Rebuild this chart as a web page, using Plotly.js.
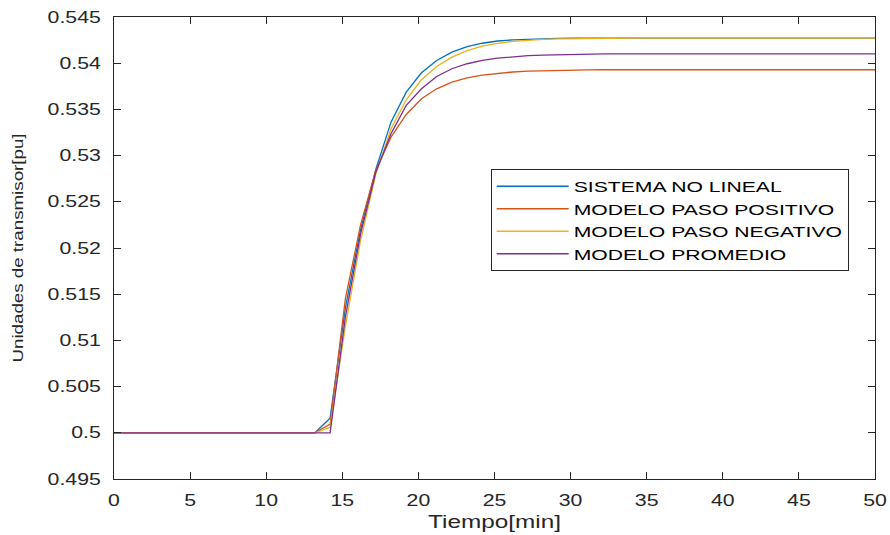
<!DOCTYPE html>
<html>
<head>
<meta charset="utf-8">
<script src="https://cdn.plot.ly/plotly-3.0.1.min.js"></script>
<style>
html,body{margin:0;padding:0;background:#fff;}
#chart{width:890px;height:535px;}
#chart g.xtick{transform-box:fill-box;transform-origin:center;transform:scaleX(1.33);}
#chart g.ytick{transform-box:fill-box;transform-origin:right center;transform:scaleX(1.33);}
text.legendtext{transform-box:fill-box;transform-origin:left center;transform:scaleX(1.41);}
#chart g.g-xtitle{transform-box:fill-box;transform-origin:center;transform:scaleX(1.28);}
#chart g.g-ytitle{transform-box:fill-box;transform-origin:center;transform:scaleY(1.21);}
</style>
</head>
<body>
<div id="chart"></div>
<script>
// Time samples [min]
const tiempo = [0, 13.2, 14.2, 15.2, 16.2, 17.2, 18.2, 19.2, 20.2, 21.2, 22.2, 23.2, 24.2, 25.2, 26.2, 27.2, 28.2, 29.2, 30.2, 31.2, 32.2, 33.2, 34.2, 35.2, 50];

const sistemaNoLineal = [0.5, 0.5, 0.50158, 0.5135, 0.5220, 0.5285, 0.53362, 0.53686, 0.53896, 0.54029, 0.54119, 0.54180, 0.54216, 0.54240, 0.54252, 0.54260, 0.54265, 0.54268, 0.54270, 0.54271, 0.54271, 0.54271, 0.54271, 0.54271, 0.54271];
const modeloPasoPositivo = [0.5, 0.5, 0.50094, 0.5145, 0.5225, 0.5284, 0.53200, 0.53445, 0.53615, 0.53723, 0.53795, 0.53842, 0.53870, 0.53890, 0.53905, 0.53915, 0.53920, 0.53924, 0.53927, 0.53928, 0.53929, 0.53929, 0.53929, 0.53929, 0.53929];
const modeloPasoNegativo = [0.5, 0.5, 0.50060, 0.5115, 0.5208, 0.5280, 0.53291, 0.53604, 0.53821, 0.53964, 0.54065, 0.54137, 0.54184, 0.54215, 0.54236, 0.54250, 0.54258, 0.54263, 0.54266, 0.54268, 0.54270, 0.54271, 0.54271, 0.54271, 0.54271];
const modeloPromedio = [0.5, 0.5, 0.5, 0.5125, 0.5215, 0.5282, 0.53237, 0.53543, 0.53723, 0.53856, 0.53940, 0.53994, 0.54030, 0.54054, 0.54070, 0.54081, 0.54088, 0.54093, 0.54096, 0.54098, 0.54100, 0.54101, 0.54102, 0.54102, 0.54102];

const seriesNames = ["SISTEMA NO LINEAL", "MODELO PASO POSITIVO", "MODELO PASO NEGATIVO", "MODELO PROMEDIO"];
const seriesColors = ["#0072BD", "#D95319", "#EDB120", "#7E2F8E"];
const xTickVals = [0, 5, 10, 15, 20, 25, 30, 35, 40, 45, 50];
const yTickVals = [0.495, 0.5, 0.505, 0.51, 0.515, 0.52, 0.525, 0.53, 0.535, 0.54, 0.545];
const yTickText = ["0.495", "0.5", "0.505", "0.51", "0.515", "0.52", "0.525", "0.53", "0.535", "0.54", "0.545"];

const allSeries = [sistemaNoLineal, modeloPasoPositivo, modeloPasoNegativo, modeloPromedio];
const traces = allSeries.map((ys, i) => ({
  x: tiempo, y: ys, type: 'scatter', mode: 'lines', name: seriesNames[i],
  line: {color: seriesColors[i], width: 1.3}
}));

const fontFam = '"Liberation Sans", Arial, sans-serif';
const layout = {
  width: 890, height: 535,
  margin: {l: 114, r: 15, t: 17, b: 56},
  paper_bgcolor: '#fff', plot_bgcolor: '#fff',
  font: {family: fontFam, color: '#262626', size: 16},
  showlegend: true,
  legend: {
    x: 0.495, y: 0.671, xanchor: 'left', yanchor: 'top',
    bgcolor: '#fff', bordercolor: '#262626', borderwidth: 1,
    font: {family: fontFam, size: 15, color: '#000'},
    itemwidth: 72,
    tracegroupgap: 0
  },
  xaxis: {
    range: [0, 50], tickvals: xTickVals, ticks: 'inside', ticklen: 7, tickcolor: '#262626',
    showline: true, linecolor: '#262626', linewidth: 1, mirror: 'ticks',
    showgrid: false, zeroline: false,
    tickfont: {size: 16}, ticklabelstandoff: 7,
    title: {text: 'Tiempo[min]', font: {size: 19, color: '#262626'}, standoff: 6}
  },
  yaxis: {
    range: [0.495, 0.545], tickvals: yTickVals, ticktext: yTickText, ticks: 'inside', ticklen: 7, tickcolor: '#262626',
    showline: true, linecolor: '#262626', linewidth: 1, mirror: 'ticks',
    showgrid: false, zeroline: false,
    tickfont: {size: 16}, ticklabelstandoff: 9,
    title: {text: 'Unidades de transmisor[pu]', font: {size: 15.5, color: '#262626'}, standoff: 33}
  }
};

Plotly.newPlot('chart', traces, layout, {staticPlot: true, displayModeBar: false});
</script>
</body>
</html>
